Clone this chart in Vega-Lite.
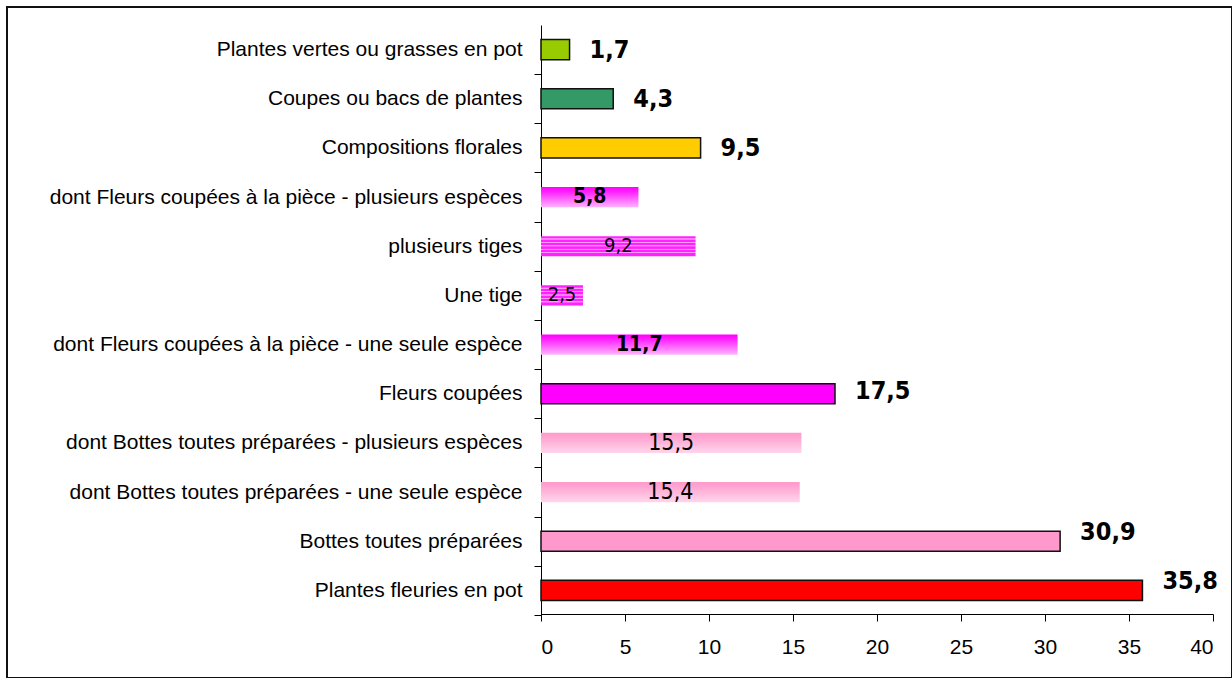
{
  "$schema": "https://vega.github.io/schema/vega-lite/v6.json",
  "width": 1225,
  "height": 671,
  "autosize": {"type": "none"},
  "padding": {"left": 7, "top": 7, "right": 0, "bottom": 0},
  "background": "white",
  "config": {
    "view": {"stroke": "#111111", "strokeWidth": 2},
    "locale": {"number": {"decimal": ",", "thousands": " ", "grouping": [3], "currency": ["", " €"]}},
    "axis": {"labelFont": "Liberation Sans", "labelFontSize": 21, "labelColor": "#000000", "domainColor": "#000000", "tickColor": "#000000", "grid": false, "title": null}
  },
  "data": {
    "values": [
      {"cat": "Plantes vertes ou grasses en pot", "value": 1.7},
      {"cat": "Coupes ou bacs de plantes", "value": 4.3},
      {"cat": "Compositions florales\u00a0\u00a0", "value": 9.5},
      {"cat": "dont Fleurs coupées à la pièce - plusieurs espèces", "value": 5.8},
      {"cat": "plusieurs tiges", "value": 9.2},
      {"cat": "Une tige", "value": 2.5},
      {"cat": "dont Fleurs coupées à la pièce - une seule espèce", "value": 11.7},
      {"cat": "Fleurs coupées", "value": 17.5},
      {"cat": "dont Bottes toutes préparées - plusieurs espèces", "value": 15.5},
      {"cat": "dont Bottes toutes préparées - une seule espèce", "value": 15.4},
      {"cat": "Bottes toutes préparées", "value": 30.9},
      {"cat": "Plantes fleuries en pot", "value": 35.8}
    ]
  },
  "resolve": {"scale": {"x": "independent"}},
  "layer": [
    {
      "encoding": {
        "y": {"field": "cat", "type": "nominal", "sort": null,
          "scale": {"domain": ["Plantes vertes ou grasses en pot", "Coupes ou bacs de plantes", "Compositions florales\u00a0\u00a0", "dont Fleurs coupées à la pièce - plusieurs espèces", "plusieurs tiges", "Une tige", "dont Fleurs coupées à la pièce - une seule espèce", "Fleurs coupées", "dont Bottes toutes préparées - plusieurs espèces", "dont Bottes toutes préparées - une seule espèce", "Bottes toutes préparées", "Plantes fleuries en pot"],
            "range": [18, 608], "paddingInner": 0.59, "paddingOuter": 0.295},
          "axis": {"offset": -534, "tickOffset": 24.58, "labelOffset": -24.58, "tickSize": 7, "labelPadding": 12, "labelLimit": 0, "labelAlign": "right", "domainWidth": 1, "tickWidth": 1}},
        "x": {"field": "value", "type": "quantitative",
          "scale": {"domain": [0, 40], "range": [534, 1206], "nice": false},
          "axis": {"offset": -64, "values": [0, 5, 10, 15, 20, 25, 30, 35, 40], "tickSize": 7, "labelPadding": 15, "format": "d", "domainWidth": 1, "tickWidth": 1}}
      },
      "layer": [
        {
          "transform": [{"filter": {"field": "cat", "oneOf": ["Plantes vertes ou grasses en pot", "Coupes ou bacs de plantes", "Compositions florales\u00a0\u00a0", "Fleurs coupées", "Bottes toutes préparées", "Plantes fleuries en pot"]}}],
          "mark": {"type": "bar", "stroke": "#111111", "strokeWidth": 1.5},
          "encoding": {
            "fill": {"field": "cat", "type": "nominal", "legend": null,
              "scale": {"domain": ["Plantes vertes ou grasses en pot", "Coupes ou bacs de plantes", "Compositions florales\u00a0\u00a0", "Fleurs coupées", "Bottes toutes préparées", "Plantes fleuries en pot"],
                "range": ["#99CC00", "#339966", "#FFCC00", "#FF00FF", "#FF99CC", "#FF0000"]}}
          }
        },
        {
          "transform": [{"filter": {"field": "cat", "oneOf": ["dont Fleurs coupées à la pièce - plusieurs espèces", "dont Fleurs coupées à la pièce - une seule espèce"]}}],
          "mark": {"type": "bar", "fill": {"gradient": "linear", "x1": 0, "y1": 0, "x2": 0, "y2": 1, "stops": [{"offset": 0, "color": "#FF00FF"}, {"offset": 0.2, "color": "#FF1AFF"}, {"offset": 1, "color": "#FFB3FF"}]}}
        },
        {
          "transform": [{"filter": {"field": "cat", "oneOf": ["dont Bottes toutes préparées - plusieurs espèces", "dont Bottes toutes préparées - une seule espèce"]}}],
          "mark": {"type": "bar", "fill": {"gradient": "linear", "x1": 0, "y1": 0, "x2": 0, "y2": 1, "stops": [{"offset": 0, "color": "#FF99CC"}, {"offset": 0.2, "color": "#FFA3D1"}, {"offset": 1, "color": "#FFD6EB"}]}}
        },
        {
          "transform": [{"filter": {"field": "cat", "oneOf": ["plusieurs tiges", "Une tige"]}}],
          "mark": {"type": "bar", "fill": {"gradient": "linear", "x1": 0, "y1": 0, "x2": 0, "y2": 1, "stops": [
            {"offset": 0, "color": "#FF22FF"}, {"offset": 0.1, "color": "#FF22FF"}, {"offset": 0.12, "color": "#FF99FF"}, {"offset": 0.16, "color": "#FF99FF"}, {"offset": 0.18, "color": "#FF22FF"},
            {"offset": 0.27, "color": "#FF22FF"}, {"offset": 0.29, "color": "#FF99FF"}, {"offset": 0.33, "color": "#FF99FF"}, {"offset": 0.35, "color": "#FF22FF"},
            {"offset": 0.44, "color": "#FF22FF"}, {"offset": 0.46, "color": "#FF99FF"}, {"offset": 0.5, "color": "#FF99FF"}, {"offset": 0.52, "color": "#FF22FF"},
            {"offset": 0.61, "color": "#FF22FF"}, {"offset": 0.63, "color": "#FF99FF"}, {"offset": 0.67, "color": "#FF99FF"}, {"offset": 0.69, "color": "#FF22FF"},
            {"offset": 0.78, "color": "#FF22FF"}, {"offset": 0.8, "color": "#FF99FF"}, {"offset": 0.84, "color": "#FF99FF"}, {"offset": 0.86, "color": "#FF22FF"},
            {"offset": 1, "color": "#FF22FF"}]}}
        },
        {
          "transform": [{"filter": {"field": "cat", "oneOf": ["Plantes vertes ou grasses en pot", "Coupes ou bacs de plantes", "Compositions florales\u00a0\u00a0"]}}],
          "mark": {"type": "text", "align": "left", "baseline": "middle", "dx": 20, "font": "DejaVu Sans Condensed", "fontWeight": "bold", "fontSize": 25, "color": "#000000"},
          "encoding": {"text": {"field": "value", "type": "quantitative", "format": ".1f"}}
        },
        {
          "transform": [{"filter": {"field": "cat", "oneOf": ["Fleurs coupées"]}}],
          "mark": {"type": "text", "align": "left", "baseline": "middle", "dx": 20, "dy": -3, "font": "DejaVu Sans Condensed", "fontWeight": "bold", "fontSize": 25, "color": "#000000"},
          "encoding": {"text": {"field": "value", "type": "quantitative", "format": ".1f"}}
        },
        {
          "transform": [{"filter": {"field": "cat", "oneOf": ["Bottes toutes préparées", "Plantes fleuries en pot"]}}],
          "mark": {"type": "text", "align": "left", "baseline": "middle", "dx": 20, "dy": -9, "font": "DejaVu Sans Condensed", "fontWeight": "bold", "fontSize": 25, "color": "#000000"},
          "encoding": {"text": {"field": "value", "type": "quantitative", "format": ".1f"}}
        }
      ]
    },
    {
      "encoding": {
        "y": {"field": "cat", "type": "nominal", "sort": null,
          "scale": {"domain": ["Plantes vertes ou grasses en pot", "Coupes ou bacs de plantes", "Compositions florales\u00a0\u00a0", "dont Fleurs coupées à la pièce - plusieurs espèces", "plusieurs tiges", "Une tige", "dont Fleurs coupées à la pièce - une seule espèce", "Fleurs coupées", "dont Bottes toutes préparées - plusieurs espèces", "dont Bottes toutes préparées - une seule espèce", "Bottes toutes préparées", "Plantes fleuries en pot"],
            "range": [18, 608], "paddingInner": 0.59, "paddingOuter": 0.295}},
        "x": {"field": "value", "type": "quantitative",
          "scale": {"domain": [0, 80], "range": [534, 1206], "nice": false}, "axis": null}
      },
      "layer": [
        {
          "transform": [{"filter": {"field": "cat", "oneOf": ["dont Fleurs coupées à la pièce - plusieurs espèces", "dont Fleurs coupées à la pièce - une seule espèce"]}}],
          "mark": {"type": "text", "align": "center", "baseline": "middle", "font": "DejaVu Sans Condensed", "fontWeight": "bold", "fontSize": 21, "color": "#000000"},
          "encoding": {"text": {"field": "value", "type": "quantitative", "format": ".1f"}}
        },
        {
          "transform": [{"filter": {"field": "cat", "oneOf": ["plusieurs tiges", "Une tige"]}}],
          "mark": {"type": "text", "align": "center", "baseline": "middle", "font": "DejaVu Sans Condensed", "fontSize": 20, "color": "#000000"},
          "encoding": {"text": {"field": "value", "type": "quantitative", "format": ".1f"}}
        },
        {
          "transform": [{"filter": {"field": "cat", "oneOf": ["dont Bottes toutes préparées - plusieurs espèces", "dont Bottes toutes préparées - une seule espèce"]}}],
          "mark": {"type": "text", "align": "center", "baseline": "middle", "font": "DejaVu Sans Condensed", "fontSize": 23, "color": "#000000"},
          "encoding": {"text": {"field": "value", "type": "quantitative", "format": ".1f"}}
        }
      ]
    }
  ]
}
